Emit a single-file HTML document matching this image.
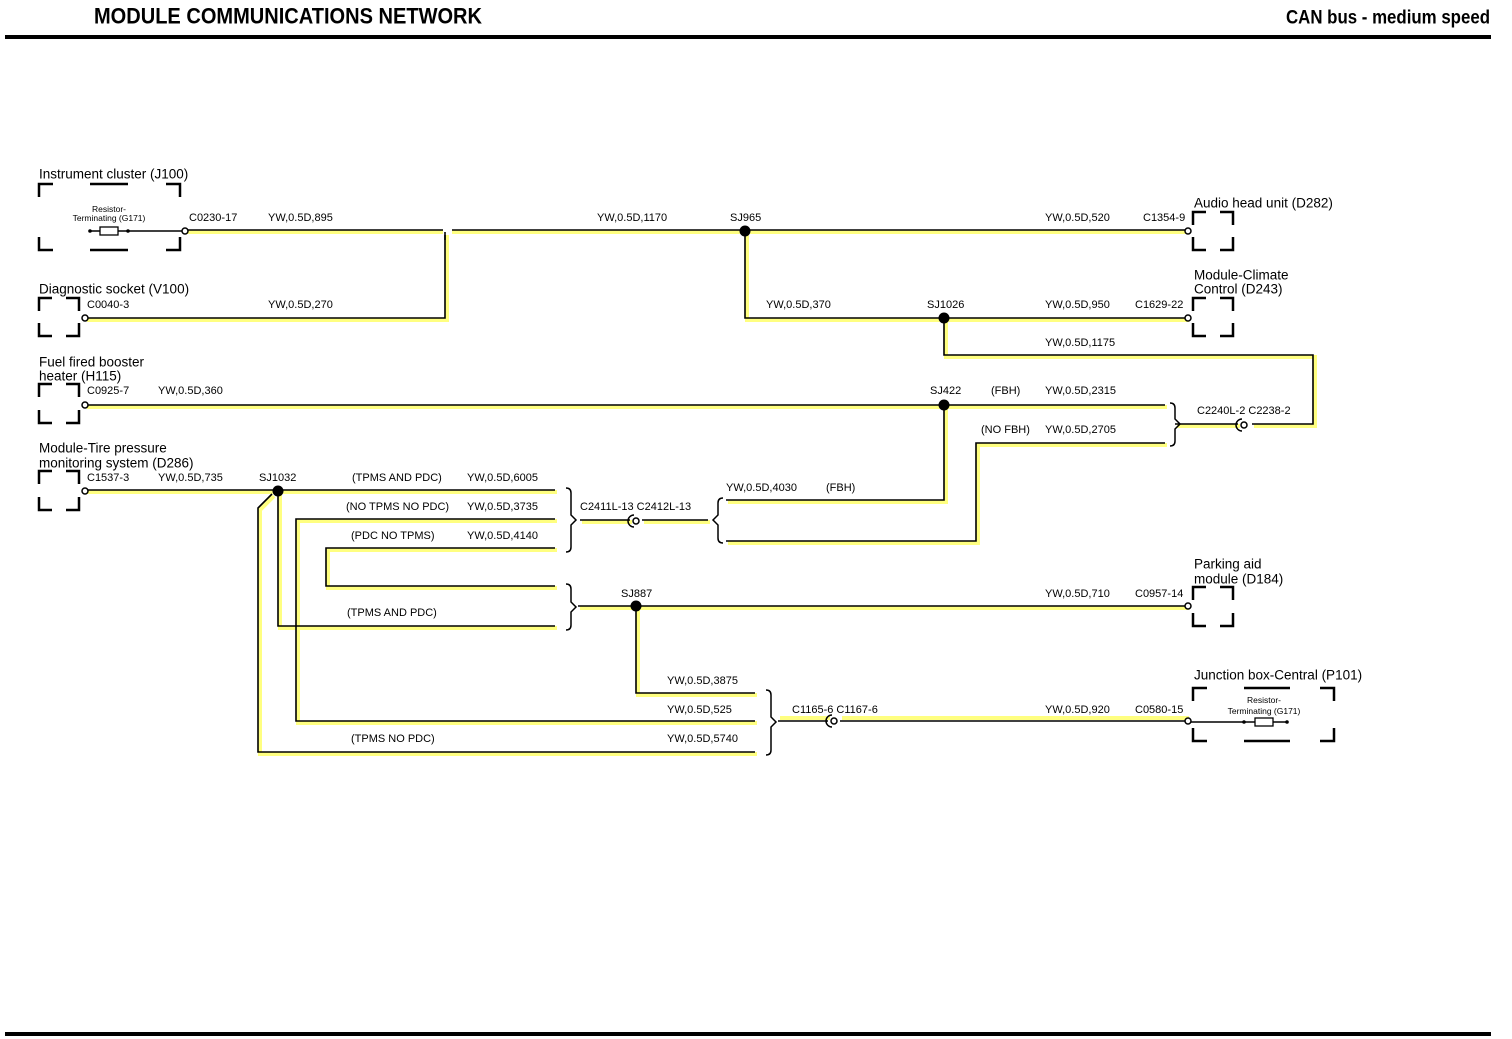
<!DOCTYPE html>
<html><head><meta charset="utf-8"><style>
html,body{margin:0;padding:0;background:#fff;}
svg{display:block}
text{font-family:"Liberation Sans",Arial,sans-serif;font-size:11px;fill:#000;dominant-baseline:central}
.m{font-size:13.5px}
.s{font-size:8.5px}
.h{font-weight:bold;font-size:22px;font-stretch:condensed}
</style></head><body>
<svg width="1512" height="1039" viewBox="0 0 1512 1039" xmlns="http://www.w3.org/2000/svg">
<rect width="1512" height="1039" fill="#fff"/>
<text x="94" y="16" class="h" textLength="388" lengthAdjust="spacingAndGlyphs">MODULE COMMUNICATIONS NETWORK</text>
<text x="1490" y="18" class="h" text-anchor="end" style="font-size:19px" textLength="204" lengthAdjust="spacingAndGlyphs">CAN bus - medium speed</text>
<rect x="5" y="35" width="1486" height="4" fill="#000"/>
<rect x="5" y="1032" width="1486" height="4" fill="#000"/>

<g id="w" fill="none" stroke-linejoin="miter">
<g transform="translate(2,2)" stroke="#ffff80" stroke-width="4">
<path d="M185,230H1187M85,318H445V232M745,231V318H1187M944,318V355H1313V424H1252M85,405H1165M1165,443H976V541H726M944,405V500H726M580,520H630M642,520H708M1175,424H1238M85,490H555M555,519H296V721H755M555,548H326V586H555M278,491V626H555M272,494L258,508V752H755M578,606H1187M636,606V693H755"/>
</g>
<g transform="translate(2,-3)" stroke="#ffff80" stroke-width="4"><path d="M778,721H828M840,721H1187"/></g>
<g stroke="#000" stroke-width="1.6">
<path d="M90,231H185M185,230H1187M85,318H445V232M745,231V318H1187M944,318V355H1313V424H1252M85,405H1165M1165,443H976V541H726M944,405V500H726M580,520H630M642,520H708M1175,424H1238M85,490H555M555,519H296V721H755M555,548H326V586H555M278,491V626H555M272,494L258,508V752H755M578,606H1187M636,606V693H755M778,721H828M840,721H1187M1190,722H1287"/>
</g>
</g>
<rect x="443" y="226" width="9" height="9" fill="#fff"/>
<path d="M445,232V240" stroke="#000" stroke-width="1.6"/>

<g fill="#000">
<circle cx="745" cy="231" r="5.5"/><circle cx="944" cy="318" r="5.5"/><circle cx="944" cy="405" r="5.5"/><circle cx="278" cy="491" r="5.5"/><circle cx="636" cy="606" r="5.5"/>
</g>
<g fill="#fff" stroke="#000" stroke-width="1.5">
<circle cx="185" cy="231" r="3"/><circle cx="85" cy="318" r="3"/><circle cx="85" cy="405" r="3"/><circle cx="85" cy="491" r="3"/>
<circle cx="1188" cy="231" r="3"/><circle cx="1188" cy="318" r="3"/><circle cx="1188" cy="606" r="3"/><circle cx="1188" cy="721" r="3"/>
<circle cx="636" cy="521" r="3"/><circle cx="834" cy="721" r="3"/><circle cx="1244" cy="425" r="3"/>
</g>
<g fill="none" stroke="#000" stroke-width="1.5">
<path d="M634,515a6,6 0 0 0 0,12M832,715a6,6 0 0 0 0,12M1242,419a6,6 0 0 0 0,12"/>
<path d="M566,488q5,0 5,5V515l5,5l-5,5V547q0,5 -5,5"/>
<path d="M566,584q5,0 5,5V602l5,5l-5,5V625q0,5 -5,5"/>
<path d="M766,690q5,0 5,5V717l5,5l-5,5V750q0,5 -5,5"/>
<path d="M1170,403q5,0 5,5V419l5,5l-5,5V441q0,5 -5,5"/>
<path d="M723,498q-5,0 -5,5V515l-5,5l5,5V538q0,5 5,5"/>
</g>
<g fill="none" stroke="#000" stroke-width="2.5">
<path d="M39,197V184H53M166,184H180V197M39,237V250H53M166,250H180V237M90,184H128M90,250H128"/>
<path d="M39,311V298H52M66,298H79V311M39,323V336H52M66,336H79V323"/>
<path d="M39,397V384H52M66,384H79V397M39,410V423H52M66,423H79V410"/>
<path d="M39,484V471H52M66,471H79V484M39,497V510H52M66,510H79V497"/>
<path d="M1193,225V212H1206M1220,212H1233V225M1193,237V250H1206M1220,250H1233V237"/>
<path d="M1193,311V298H1206M1220,298H1233V311M1193,323V336H1206M1220,336H1233V323"/>
<path d="M1193,600V587H1206M1220,587H1233V600M1193,613V626H1206M1220,626H1233V613"/>
<path d="M1193,701V688H1207M1320,688H1334V701M1193,728V741H1207M1320,741H1334V728M1244,688H1290M1244,741H1290"/>
</g>
<g fill="#fff" stroke="#000" stroke-width="1.3">
<rect x="100" y="227" width="18" height="8"/><rect x="1255" y="718" width="18" height="8"/>
</g>
<g fill="#000"><circle cx="90" cy="231" r="1.8"/><circle cx="128" cy="231" r="1.8"/><circle cx="1244" cy="722" r="1.8"/><circle cx="1287" cy="722" r="1.8"/></g>
<text x="109" y="209" class="s" text-anchor="middle">Resistor-</text>
<text x="109" y="218" class="s" text-anchor="middle">Terminating (G171)</text>
<text x="1264" y="700" class="s" text-anchor="middle">Resistor-</text>
<text x="1264" y="711" class="s" text-anchor="middle">Terminating (G171)</text>

<text class="m" x="39" y="174">Instrument cluster (J100)</text>
<text class="m" x="39" y="289">Diagnostic socket (V100)</text>
<text class="m" x="39" y="362">Fuel fired booster</text>
<text class="m" x="39" y="376">heater (H115)</text>
<text class="m" x="39" y="448">Module-Tire pressure</text>
<text class="m" x="39" y="463">monitoring system (D286)</text>
<text class="m" x="1194" y="203">Audio head unit (D282)</text>
<text class="m" x="1194" y="275">Module-Climate</text>
<text class="m" x="1194" y="289">Control (D243)</text>
<text class="m" x="1194" y="564">Parking aid</text>
<text class="m" x="1194" y="579">module (D184)</text>
<text class="m" x="1194" y="675">Junction box-Central (P101)</text>

<text x="189" y="218">C0230-17</text><text x="268" y="218">YW,0.5D,895</text><text x="597" y="218">YW,0.5D,1170</text>
<text x="730" y="218">SJ965</text><text x="1045" y="218">YW,0.5D,520</text><text x="1143" y="218">C1354-9</text>
<text x="87" y="305">C0040-3</text><text x="268" y="305">YW,0.5D,270</text>
<text x="766" y="305">YW,0.5D,370</text><text x="927" y="305">SJ1026</text><text x="1045" y="305">YW,0.5D,950</text><text x="1135" y="305">C1629-22</text>
<text x="1045" y="343">YW,0.5D,1175</text>
<text x="87" y="391">C0925-7</text><text x="158" y="391">YW,0.5D,360</text><text x="930" y="391">SJ422</text><text x="991" y="391">(FBH)</text><text x="1045" y="391">YW,0.5D,2315</text>
<text x="981" y="430">(NO FBH)</text><text x="1045" y="430">YW,0.5D,2705</text>
<text x="1197" y="411">C2240L-2 C2238-2</text>
<text x="87" y="478">C1537-3</text><text x="158" y="478">YW,0.5D,735</text><text x="259" y="478">SJ1032</text><text x="352" y="478">(TPMS AND PDC)</text><text x="467" y="478">YW,0.5D,6005</text>
<text x="346" y="507">(NO TPMS NO PDC)</text><text x="467" y="507">YW,0.5D,3735</text>
<text x="351" y="536">(PDC NO TPMS)</text><text x="467" y="536">YW,0.5D,4140</text>
<text x="580" y="507">C2411L-13 C2412L-13</text>
<text x="726" y="488">YW,0.5D,4030</text><text x="826" y="488">(FBH)</text>
<text x="621" y="594">SJ887</text><text x="1045" y="594">YW,0.5D,710</text><text x="1135" y="594">C0957-14</text>
<text x="347" y="613">(TPMS AND PDC)</text>
<text x="667" y="681">YW,0.5D,3875</text><text x="667" y="710">YW,0.5D,525</text>
<text x="351" y="739">(TPMS NO PDC)</text><text x="667" y="739">YW,0.5D,5740</text>
<text x="792" y="710">C1165-6 C1167-6</text><text x="1045" y="710">YW,0.5D,920</text><text x="1135" y="710">C0580-15</text>
</svg>
</body></html>
